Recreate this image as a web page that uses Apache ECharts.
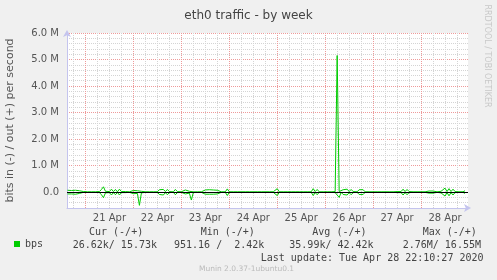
<!DOCTYPE html>
<html><head><meta charset="utf-8">
<script src="https://cdn.jsdelivr.net/npm/echarts@6/dist/echarts.min.js"></script>
<style>html,body{margin:0;padding:0;background:#f0f0f0;}#c{width:497px;height:280px;}</style>
</head><body><div id="c"></div>
<script>
// one sample per hour, first sample at hourStart (hours after 20 Apr 00:00)
const hourStart = 15;
// out (+) traffic, Mbit/s
const outMbps = [
 0.07,0.07,0.06,0.07,0.07,0.06,0.05,0.01,0.02,0.01,
 0.01,0.05,0.01,0.05,0.01,0.01,0.02,0.10,0.20,0.03,
 0.09,0.02,0.11,0.02,0.10,0.01,0.11,0.02,0.09,0.02,
 0.05,0.01,0.01,0.06,0.01,0.05,0.01,0.03,0.01,0.01,
 0.08,0.01,0.01,0.01,0.01,0.01,0.09,0.02,0.10,0.02,
 0.10,0.02,0.09,0.01,0.10,0.02,0.08,0.01,0.01,0.08,
 0.01,0.03,0.04,0.01,0.01,0.01,0.01,0.01,0.01,0.08,
 0.01,0.09,0.02,0.08,0.01,0.07,0.01,0.01,0.01,0.01,
 0.12,0.01,0.01,0.01,0.01,0.01,0.08,0.01,0.05,0.01,
 0.01,0.01,0.01,0.01,0.05,0.01,0.06,0.01,0.05,0.01,
 0.05,0.01,0.06,0.01,0.02,0.13,0.01,0.01,0.01,0.07,
 0.01,0.07,0.01,0.01,0.01,0.08,0.01,0.01,0.01,0.04,
 0.01,0.04,0.01,0.13,0.02,0.10,0.01,0.03,0.01,0.01,
 0.01,0.01,0.01,0.01,0.02,5.15,0.02,0.01,0.09,0.02,
 0.11,0.02,0.10,0.02,0.08,0.01,0.09,0.02,0.09,0.01,
 0.08,0.01,0.08,0.01,0.03,0.01,0.02,0.01,0.01,0.01,
 0.04,0.01,0.01,0.01,0.01,0.02,0.09,0.02,0.11,0.02,
 0.10,0.02,0.08,0.01,0.03,0.01,0.01,0.01,0.01,0.01,
 0.01,0.04,0.01,0.04,0.01,0.01,0.01,0.03,0.08,0.15,
 0.02,0.13,0.02,0.11,0.02,0.08,0.01,0.06,0.01,0.05
];
// in (-) traffic, Mbit/s, drawn below zero
const inMbps = [
 -0.07,-0.08,-0.07,-0.07,-0.08,-0.07,-0.05,-0.01,-0.01,-0.02,
 -0.01,-0.05,-0.01,-0.05,-0.01,-0.01,-0.02,-0.10,-0.21,-0.03,
 -0.09,-0.02,-0.11,-0.02,-0.10,-0.01,-0.11,-0.02,-0.09,-0.02,
 -0.05,-0.01,-0.01,-0.06,-0.01,-0.05,-0.50,-0.03,-0.01,-0.01,
 -0.03,-0.01,-0.01,-0.01,-0.01,-0.01,-0.09,-0.02,-0.11,-0.02,
 -0.10,-0.02,-0.09,-0.01,-0.10,-0.02,-0.08,-0.01,-0.01,-0.07,
 -0.01,-0.04,-0.30,-0.02,-0.01,-0.01,-0.01,-0.01,-0.01,-0.08,
 -0.01,-0.08,-0.02,-0.08,-0.01,-0.07,-0.01,-0.01,-0.01,-0.01,
 -0.13,-0.01,-0.01,-0.01,-0.01,-0.01,-0.08,-0.01,-0.05,-0.01,
 -0.01,-0.01,-0.01,-0.01,-0.05,-0.01,-0.06,-0.01,-0.05,-0.01,
 -0.05,-0.01,-0.06,-0.01,-0.02,-0.13,-0.01,-0.01,-0.01,-0.07,
 -0.01,-0.07,-0.01,-0.01,-0.01,-0.08,-0.01,-0.01,-0.01,-0.04,
 -0.01,-0.04,-0.01,-0.13,-0.02,-0.10,-0.01,-0.03,-0.01,-0.01,
 -0.01,-0.01,-0.01,-0.01,-0.02,-0.05,-0.20,-0.01,-0.09,-0.02,
 -0.11,-0.02,-0.10,-0.02,-0.08,-0.01,-0.09,-0.02,-0.09,-0.01,
 -0.08,-0.01,-0.08,-0.01,-0.03,-0.01,-0.02,-0.01,-0.01,-0.01,
 -0.04,-0.01,-0.01,-0.01,-0.01,-0.02,-0.09,-0.02,-0.11,-0.02,
 -0.10,-0.02,-0.08,-0.01,-0.03,-0.01,-0.01,-0.01,-0.01,-0.01,
 -0.01,-0.04,-0.01,-0.04,-0.01,-0.01,-0.01,-0.03,-0.08,-0.15,
 -0.02,-0.14,-0.02,-0.11,-0.02,-0.08,-0.01,-0.06,-0.01,-0.05
];
// day labels, centred at noon of each day (hours after 20 Apr 00:00)
const dayLabels = ['21 Apr','22 Apr','23 Apr','24 Apr','25 Apr','26 Apr','27 Apr','28 Apr'];
const dayNoons = [36,60,84,108,132,156,180,204];
const dayStarts = [24,48,72,96,120,144,168,192];
const yTickValues = [0,1,2,3,4,5,6];
const yTickLabels = ['0.0','1.0 M','2.0 M','3.0 M','4.0 M','5.0 M','6.0 M'];
const xMin = 14.75, xMax = 215.5, yMin = -0.6, yMax = 6.0;

const legendHeads = ['Cur (-/+)','Min (-/+)','Avg (-/+)','Max (-/+)'];
const legendVals = ['26.62k/ 15.73k','951.16 /  2.42k','35.99k/ 42.42k','2.76M/ 16.55M'];
const lastUpdate = 'Last update: Tue Apr 28 22:10:27 2020';
const footer = 'Munin 2.0.37-1ubuntu0.1';

const minorX = [];
for (let h = 18; h < xMax; h += 6) if (h % 24 !== 0) minorX.push(h);
const minorY = [];
for (let k = -2; k <= 30; k++) if (k % 5 !== 0) minorY.push(+(k * 0.2).toFixed(1));

const outData = outMbps.map((v, i) => [hourStart + i, v]);
const inData = inMbps.map((v, i) => [hourStart + i, v]);

const GREEN = '#00cc00';
const AXIS = '#c4c4ee';
const MONO = 'DejaVu Sans Mono';
const SANS = 'DejaVu Sans';
const MINOR = '#d4d4d4';
const MAJOR = '#ee9a9a';

const chart = echarts.init(document.getElementById('c'), null, {renderer: 'canvas'});
const headX = [89, 200.7, 312.3, 422.7];
const valX = [72.7, 174, 289.3, 402.7];
const graphics = [];
legendHeads.forEach((t, i) => graphics.push({type: 'text', x: headX[i], y: 232.3,
  style: {text: t, font: '10px "' + MONO + '"', fill: '#444', verticalAlign: 'middle'}}));
legendVals.forEach((t, i) => graphics.push({type: 'text', x: valX[i], y: 245,
  style: {text: t, font: '10px "' + MONO + '"', fill: '#444', verticalAlign: 'middle'}}));
graphics.push({type: 'text', x: 483.5, y: 258.3,
  style: {text: lastUpdate, font: '10px "' + MONO + '"', fill: '#444', align: 'right', verticalAlign: 'middle'}});
graphics.push({type: 'text', x: 246.5, y: 269.5,
  style: {text: footer, font: '7.5px "' + SANS + '"', fill: '#bbb', align: 'center', verticalAlign: 'middle'}});
graphics.push({type: 'text', x: 487.5, y: 56, rotation: -Math.PI / 2,
  style: {text: 'RRDTOOL / TOBI OETIKER', font: '8px "' + SANS + '"', fill: '#c8c8c8', align: 'center', verticalAlign: 'middle'}});

function gridAxis(min, max, ticks, color) {
  return {type: 'value', min: min, max: max,
    axisLine: {show: false}, axisLabel: {show: false},
    axisTick: {show: false, customValues: ticks},
    splitLine: {show: true, lineStyle: {color: color, type: [1, 1], width: 1}}};
}

chart.setOption({
  animation: false,
  backgroundColor: '#f0f0f0',
  title: {text: 'eth0 traffic - by week', left: 'center', top: 5,
    textStyle: {fontFamily: SANS, fontSize: 12, fontWeight: 'normal', color: '#444'}},
  legend: {data: ['bps'], left: 14, top: 239, itemWidth: 6, itemHeight: 6, padding: 0,
    icon: 'rect', textStyle: {fontFamily: MONO, fontSize: 10, color: '#444'}},
  grid: {left: 67, right: 29, top: 33, bottom: 72, show: true, backgroundColor: '#ffffff', borderWidth: 0,
    containLabel: false, outerBoundsMode: 'none'},
  xAxis: [
    Object.assign(gridAxis(xMin, xMax, minorX, MINOR), {position: 'bottom'}),
    Object.assign(gridAxis(xMin, xMax, dayStarts, MAJOR), {position: 'bottom'}),
    {type: 'value', min: xMin, max: xMax, position: 'bottom',
     axisLine: {show: true, onZero: false, lineStyle: {color: AXIS, width: 1}, symbol: ['none', 'arrow'], symbolSize: [6, 7], symbolOffset: [0, 3]},
     axisTick: {show: false, customValues: dayNoons},
     axisLabel: {show: true, customValues: dayNoons, margin: 5, color: '#555', fontFamily: SANS, fontSize: 10,
       formatter: v => dayLabels[dayNoons.indexOf(v)]},
     splitLine: {show: false}}
  ],
  yAxis: [
    Object.assign(gridAxis(yMin, yMax, minorY, MINOR), {position: 'left'}),
    Object.assign(gridAxis(yMin, yMax, yTickValues, MAJOR), {position: 'left'}),
    {type: 'value', min: yMin, max: yMax, position: 'left',
     name: 'bits in (-) / out (+) per second', nameLocation: 'middle', nameGap: 51,
     nameTextStyle: {fontFamily: SANS, fontSize: 11, color: '#555'},
     axisLine: {show: true, onZero: false, lineStyle: {color: AXIS, width: 1}, symbol: ['none', 'arrow'], symbolSize: [6, 7], symbolOffset: [0, 3]},
     axisTick: {show: false, customValues: yTickValues},
     axisLabel: {show: true, customValues: yTickValues, margin: 8, color: '#555', fontFamily: SANS, fontSize: 10,
       formatter: v => yTickLabels[yTickValues.indexOf(v)]},
     splitLine: {show: false}}
  ],
  series: [
    {name: 'bps', type: 'line', xAxisIndex: 2, yAxisIndex: 2, data: outData, showSymbol: false, symbol: 'none',
     lineStyle: {color: GREEN, width: 1}, itemStyle: {color: GREEN}, z: 2},
    {name: 'bps', type: 'line', xAxisIndex: 2, yAxisIndex: 2, data: inData, showSymbol: false, symbol: 'none',
     lineStyle: {color: GREEN, width: 1}, itemStyle: {color: GREEN}, z: 3,
     markLine: {silent: true, symbol: ['none', 'none'], label: {show: false},
       lineStyle: {color: '#000', width: 1, type: 'solid'}, data: [{yAxis: 0}]}}
  ],
  graphic: graphics
});
</script></body></html>
